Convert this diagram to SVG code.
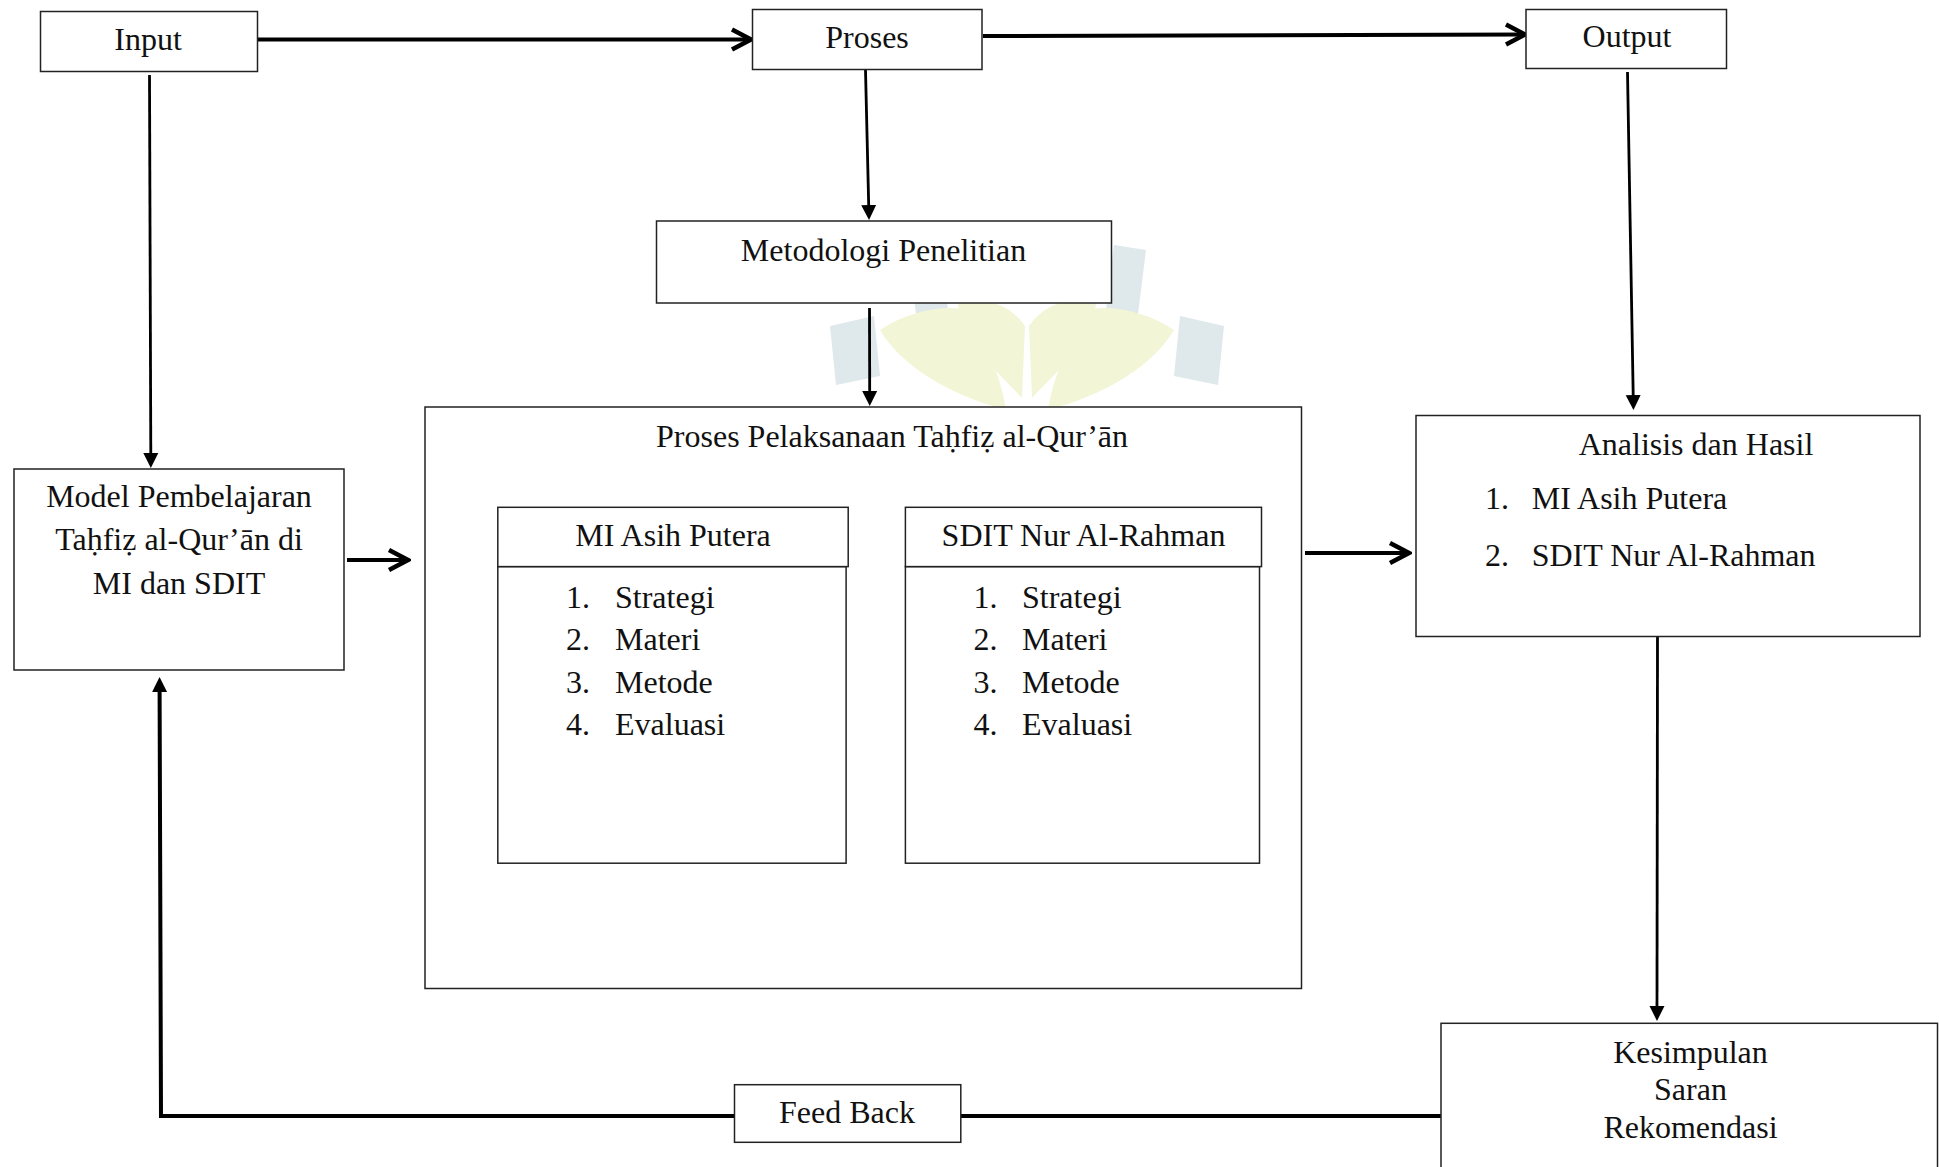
<svg xmlns="http://www.w3.org/2000/svg" xmlns:xlink="http://www.w3.org/1999/xlink" width="1939" height="1167" viewBox="0 0 1939 1167">
<style>
.box{fill:#fff;stroke:#222;stroke-width:1.5}
.t{font-family:"Liberation Serif","Times New Roman",serif;font-size:32px;fill:#111}
.c{text-anchor:middle}
.thick{stroke:#000;stroke-width:4;fill:none}
.thin{stroke:#000;stroke-width:2.8;fill:none}
.wmg{fill:#dfe8ea}
.wmy{fill:#f3f6d6}
</style>
<defs>
<marker id="chev" viewBox="-24 -13 27 26" refX="0" refY="0" markerWidth="27" markerHeight="26" markerUnits="userSpaceOnUse" orient="auto">
<path d="M -19 -10 L 0 0 L -19 10" fill="none" stroke="#000" stroke-width="4.5" stroke-linejoin="miter"/>
</marker>
<marker id="tri" viewBox="0 -8 16 16" refX="0" refY="0" markerWidth="16" markerHeight="16" markerUnits="userSpaceOnUse" orient="auto">
<path d="M 0 -7.5 L 15 0 L 0 7.5 Z" fill="#000"/>
</marker>
<g id="wmhalf">
<path class="wmg" d="M 830 326 L 874 316 L 880 376 L 836 385 Z"/>
<path class="wmg" d="M 908 250 L 940 245 L 948 310 L 916 314 Z"/>
<path class="wmy" d="M 1006 410 C 960 398 905 372 880 330 C 905 313 940 305 962 309 C 986 342 1001 376 1006 410 Z"/>
<path class="wmy" d="M 1022 398 C 998 372 962 342 958 304 C 985 296 1010 304 1025 326 Z"/>
</g>
</defs>
<g id="watermark">
<use xlink:href="#wmhalf"/>
<use xlink:href="#wmhalf" transform="translate(2054,0) scale(-1,1)"/>
</g>
<g id="connectors">
<line class="thick" x1="258" y1="39.5" x2="751" y2="39.5" marker-end="url(#chev)"/>
<line class="thick" x1="983" y1="36" x2="1525" y2="34.5" marker-end="url(#chev)"/>
<line class="thin" x1="149.5" y1="75" x2="150.8" y2="453" marker-end="url(#tri)"/>
<line class="thin" x1="865.5" y1="70" x2="868.7" y2="205" marker-end="url(#tri)"/>
<line class="thin" x1="869.5" y1="308" x2="869.7" y2="391" marker-end="url(#tri)"/>
<line class="thin" x1="1627.5" y1="72" x2="1633.2" y2="395" marker-end="url(#tri)"/>
<line class="thick" x1="347" y1="560" x2="408" y2="560" marker-end="url(#chev)"/>
<line class="thick" x1="1305" y1="553" x2="1409" y2="553" marker-end="url(#chev)"/>
<line class="thin" x1="1657.5" y1="637" x2="1657" y2="1006" marker-end="url(#tri)"/>
<line class="thick" x1="1441" y1="1116" x2="961" y2="1116"/>
<polyline class="thick" points="734,1116 161,1116 159.6,692" marker-end="url(#tri)"/>
</g>
<g id="input">
<rect class="box" x="40.5" y="11.5" width="217" height="60"/>
<text class="t c" x="148" y="50">Input</text>
</g>
<g id="proses">
<rect class="box" x="752.5" y="9.5" width="229.5" height="60"/>
<text class="t c" x="867" y="48">Proses</text>
</g>
<g id="output">
<rect class="box" x="1526" y="9.5" width="200.5" height="59"/>
<text class="t c" x="1627" y="47">Output</text>
</g>
<g id="metodologi">
<rect class="box" x="656.5" y="221" width="455" height="82"/>
<text class="t c" x="883.5" y="261">Metodologi Penelitian</text>
</g>
<g id="model">
<rect class="box" x="14" y="469" width="330" height="201"/>
<text class="t c" x="179" y="507">Model Pembelajaran</text>
<text class="t c" x="179" y="550">Taḥfiẓ al-Qur’ān di</text>
<text class="t c" x="179" y="593.5">MI dan SDIT</text>
</g>
<g id="proses-pelaksanaan">
<rect class="box" x="425" y="407" width="876.5" height="581.5"/>
<text class="t c" x="892" y="446.5">Proses Pelaksanaan Taḥfiẓ al-Qur’ān</text>
</g>
<g id="mi-asih">
<rect class="box" x="497.8" y="566.6" width="348.3" height="296.6"/>
<rect class="box" x="497.8" y="507.3" width="350.4" height="59.3"/>
<text class="t c" x="673" y="546">MI Asih Putera</text>
<text class="t" x="566" y="607.5">1.</text><text class="t" x="615" y="607.5">Strategi</text>
<text class="t" x="566" y="650">2.</text><text class="t" x="615" y="650">Materi</text>
<text class="t" x="566" y="692.5">3.</text><text class="t" x="615" y="692.5">Metode</text>
<text class="t" x="566" y="735">4.</text><text class="t" x="615" y="735">Evaluasi</text>
</g>
<g id="sdit">
<rect class="box" x="905.4" y="566.6" width="354.1" height="296.6"/>
<rect class="box" x="905.4" y="507.3" width="356.1" height="59.3"/>
<text class="t c" x="1083.5" y="546">SDIT Nur Al-Rahman</text>
<text class="t" x="973.4" y="607.5">1.</text><text class="t" x="1022" y="607.5">Strategi</text>
<text class="t" x="973.4" y="650">2.</text><text class="t" x="1022" y="650">Materi</text>
<text class="t" x="973.4" y="692.5">3.</text><text class="t" x="1022" y="692.5">Metode</text>
<text class="t" x="973.4" y="735">4.</text><text class="t" x="1022" y="735">Evaluasi</text>
</g>
<g id="analisis">
<rect class="box" x="1416" y="415.5" width="504" height="221"/>
<text class="t c" x="1696" y="454.5">Analisis dan Hasil</text>
<text class="t" x="1485" y="509">1.</text><text class="t" x="1531.7" y="509">MI Asih Putera</text>
<text class="t" x="1485" y="566">2.</text><text class="t" x="1531.7" y="566">SDIT Nur Al-Rahman</text>
</g>
<g id="kesimpulan">
<rect class="box" x="1441" y="1023.3" width="496.5" height="160"/>
<text class="t c" x="1690.5" y="1062.5">Kesimpulan</text>
<text class="t c" x="1690.5" y="1100">Saran</text>
<text class="t c" x="1690.5" y="1137.5">Rekomendasi</text>
</g>
<g id="feedback">
<rect class="box" x="734.5" y="1084.7" width="226.3" height="57.6"/>
<text class="t c" x="847" y="1123.3">Feed Back</text>
</g>
</svg>
